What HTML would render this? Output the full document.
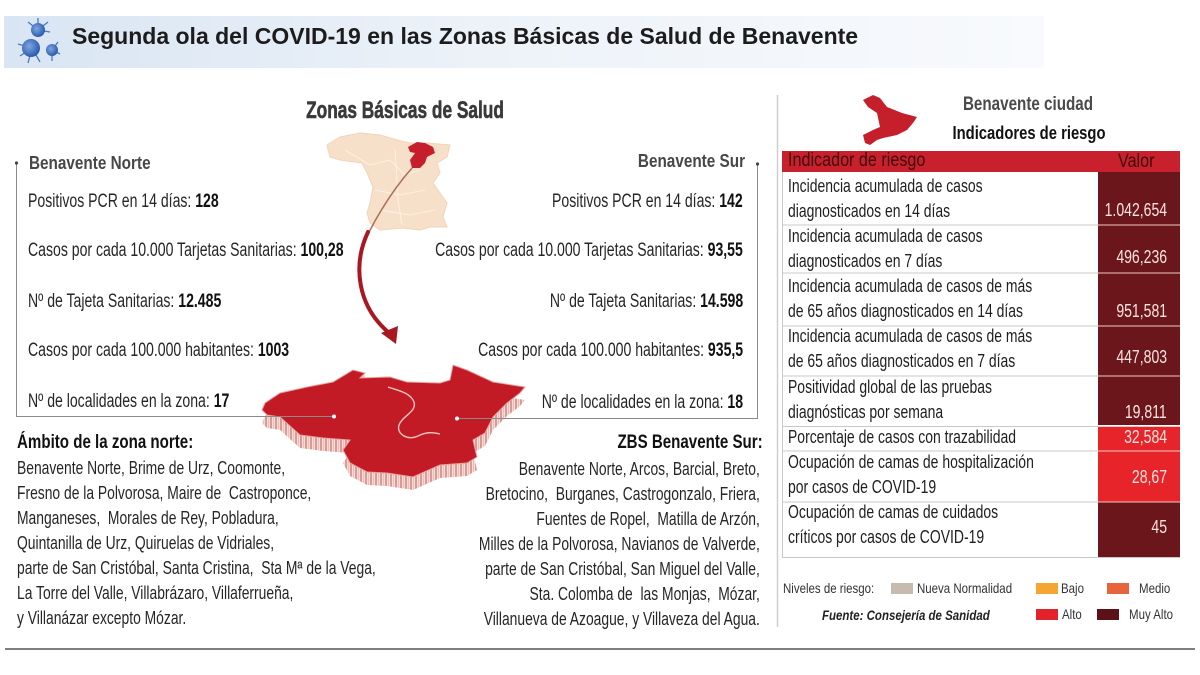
<!DOCTYPE html>
<html><head><meta charset="utf-8">
<style>
html,body{margin:0;padding:0;background:#fff;}
#w{position:relative;width:1200px;height:675px;overflow:hidden;background:#fff;font-family:"Liberation Sans",sans-serif;color:#262626;}
.t{position:absolute;white-space:nowrap;transform-origin:0 50%;line-height:20px;}
.r{transform-origin:100% 50%;text-align:right;}
.c{transform-origin:50% 50%;}
b{font-weight:bold;color:#111;}
.st{font-size:19px;transform:scaleX(.74);}
.hd{font-size:18px;font-weight:bold;color:#474747;transform:scaleX(.85);}
.blk{font-size:18px;line-height:25px;transform:scaleX(.77);}
.tb{font-size:18px;line-height:25px;transform:scaleX(.775);color:#1e1e1e;}
.val{font-size:18px;color:#fbe3df;transform:scaleX(.78);}
.lg{font-size:14px;transform:scaleX(.82);color:#333;}
.sw{position:absolute;width:22px;height:11px;}
</style></head><body><div id="w">

<svg width="1200" height="675" style="position:absolute;left:0;top:0">
<defs>
<linearGradient id="tg" x1="0" x2="1" y1="0" y2="0">
<stop offset="0" stop-color="#d9e5f3"/><stop offset="0.5" stop-color="#eef3f9"/><stop offset="1" stop-color="#f8fafd"/>
</linearGradient>
<pattern id="stp" width="5" height="10" patternUnits="userSpaceOnUse">
<rect width="5" height="10" fill="#f6dcd8"/><rect x="0" width="2" height="10" fill="#d99a96"/><rect x="3" width="1" height="10" fill="#ecbcb6"/>
</pattern>
<radialGradient id="vg" cx="0.4" cy="0.4" r="0.6"><stop offset="0" stop-color="#7fa6e0"/><stop offset="1" stop-color="#2a5cb0"/></radialGradient>
</defs>
<rect x="4" y="16" width="1040" height="52" fill="url(#tg)"/>
<g stroke="#4a78c4" stroke-width="1.3">
<line x1="38" y1="30" x2="38" y2="18"/><line x1="38" y1="30" x2="48" y2="22"/><line x1="38" y1="30" x2="28" y2="22"/><line x1="38" y1="30" x2="50" y2="32"/>
<line x1="32" y1="48" x2="18" y2="44"/><line x1="32" y1="48" x2="20" y2="56"/><line x1="32" y1="48" x2="28" y2="63"/><line x1="32" y1="48" x2="40" y2="62"/>
<line x1="52" y1="50" x2="58" y2="42"/><line x1="52" y1="50" x2="60" y2="54"/><line x1="52" y1="50" x2="52" y2="61"/>
</g>
<circle cx="38" cy="30" r="7" fill="url(#vg)"/>
<circle cx="31" cy="48" r="9" fill="url(#vg)"/>
<circle cx="52" cy="50" r="6" fill="url(#vg)"/>

<polygon points="327,145 340,137 360,133 380,135 397,140 410,143 427,143 450,145 447,157 437,163 440,173 433,183 440,193 447,203 443,217 447,227 430,227 420,230 403,228 380,230 370,223 367,213 370,203 373,187 367,173 362,163 340,160 330,157" fill="#f7e0ca" stroke="#f2d3b8" stroke-width="1"/>
<g stroke="#fff3e8" stroke-width="0.8" fill="none">
<path d="M345,150 L370,165 L390,160 L405,175 L420,170"/><path d="M375,190 L400,195 L425,190"/><path d="M380,210 L410,215 L435,210"/><path d="M395,150 L398,200 L402,225"/>
</g>
<polygon points="408,147 417,142 425,143 433,147 435,153 427,157 425,163 420,168 412,168 410,160 415,153 410,152" fill="#c41f2a"/>
<path d="M412,168 Q388,195 368,234" stroke="#b0705a" stroke-width="1.6" fill="none"/>
<path d="M368,232 C352,266 358,306 388,332" stroke="#a81820" stroke-width="4" fill="none" stroke-linecap="round"/>
<polygon points="381,333 398,326 396,344" fill="#a81820"/>

<g transform="translate(0,13)">
<polygon points="262,410 265,403 280,393 307,387 333,382 353,370 365,373 360,378 390,377 407,382 440,383 450,380 453,365 467,370 493,382 525,387 520,393 507,403 493,417 485,433 473,440 477,457 467,463 440,465 413,477 387,473 367,472 350,463 343,450 350,440 323,438 300,435 280,417 267,415" fill="url(#stp)"/>
</g>
<polygon points="353,370 353,383 365,386 365,373" fill="url(#stp)"/>
<polygon points="453,365 453,380 460,380 460,367" fill="url(#stp)"/>
<polygon points="262,410 265,403 280,393 307,387 333,382 353,370 365,373 360,378 390,377 407,382 440,383 450,380 453,365 467,370 493,382 525,387 520,393 507,403 493,417 485,433 473,440 477,457 467,463 440,465 413,477 387,473 367,472 350,463 343,450 350,440 323,438 300,435 280,417 267,415" fill="#c21b26" stroke="#e9a3a0" stroke-width="1"/>
<path d="M388,387 C396,390 410,392 414,402 C417,412 402,416 399,425 C396,434 408,441 418,436 C426,432 432,432 440,434" stroke="#f4c2bc" stroke-width="1.4" fill="none"/>

<g stroke="#8a8a8a" stroke-width="1" fill="none">
<polyline points="16.5,163 16.5,416.5 334,416.5"/>
<polyline points="757.5,164 757.5,418.5 457,418.5"/>
</g>
<circle cx="16.5" cy="163" r="1.6" fill="#444"/>
<circle cx="757.5" cy="164" r="1.6" fill="#444"/>
<circle cx="334" cy="416.5" r="2" fill="#fff"/>
<circle cx="457" cy="418.5" r="2" fill="#fff"/>

<line x1="777.5" y1="95" x2="777.5" y2="627" stroke="#cfcfcf" stroke-width="1.5"/>

<polygon points="863,100 873,95 880,98 887,107 902,113 917,117 913,123 907,130 897,135 883,138 877,140 870,145 865,143 863,135 873,130 880,127 877,113 868,107" fill="#c41f2a"/>

<rect x="782" y="151" width="398" height="21" fill="#c8202c"/>
<rect x="1098" y="172" width="82" height="253" fill="#6b161a"/>
<rect x="1098" y="427" width="82" height="75" fill="#e6242a"/>
<rect x="1098" y="502" width="82" height="56" fill="#6b161a"/>
<g stroke="#f0c8c4" stroke-width="1">
<line x1="1098" y1="225" x2="1180" y2="225"/><line x1="1098" y1="273" x2="1180" y2="273"/><line x1="1098" y1="326" x2="1180" y2="326"/><line x1="1098" y1="376" x2="1180" y2="376"/><line x1="1098" y1="426.5" x2="1180" y2="426.5"/><line x1="1098" y1="451" x2="1180" y2="451"/><line x1="1098" y1="502" x2="1180" y2="502"/>
</g>
<g stroke="#c9c9c9" stroke-width="1">
<line x1="782.5" y1="172" x2="782.5" y2="558"/>
<line x1="782" y1="225" x2="1098" y2="225"/><line x1="782" y1="273" x2="1098" y2="273"/><line x1="782" y1="326" x2="1098" y2="326"/><line x1="782" y1="376" x2="1098" y2="376"/><line x1="782" y1="426.5" x2="1098" y2="426.5"/><line x1="782" y1="451" x2="1098" y2="451"/><line x1="782" y1="502" x2="1098" y2="502"/><line x1="782" y1="557.5" x2="1180" y2="557.5"/>
</g>

<line x1="5" y1="649" x2="1195" y2="649" stroke="#555" stroke-width="1.5"/>
</svg>

<div class="t" style="left:72px;top:25px;font-size:23px;line-height:22px;font-weight:bold;color:#1c1c1c;">Segunda ola del COVID-19 en las Zonas Básicas de Salud de Benavente</div>

<div class="t c" style="left:405px;top:100px;font-size:24px;line-height:22px;font-weight:bold;color:#3a3a3a;-webkit-text-stroke:0.6px #3a3a3a;transform:translateX(-50%) scaleX(.72);">Zonas Básicas de Salud</div>

<div class="t hd" style="left:29px;top:153px;">Benavente Norte</div>
<div class="t st" style="left:28px;top:192px;">Positivos PCR en 14 días: <b>128</b></div>
<div class="t st" style="left:28px;top:241px;">Casos por cada 10.000 Tarjetas Sanitarias: <b>100,28</b></div>
<div class="t st" style="left:28px;top:292px;">Nº de Tajeta Sanitarias: <b>12.485</b></div>
<div class="t st" style="left:28px;top:341px;">Casos por cada 100.000 habitantes: <b>1003</b></div>
<div class="t st" style="left:28px;top:392px;">Nº de localidades en la zona: <b>17</b></div>

<div class="t hd r" style="right:455px;top:151px;">Benavente Sur</div>
<div class="t st r" style="right:457px;top:192px;">Positivos PCR en 14 días: <b>142</b></div>
<div class="t st r" style="right:457px;top:241px;">Casos por cada 10.000 Tarjetas Sanitarias: <b>93,55</b></div>
<div class="t st r" style="right:457px;top:292px;">Nº de Tajeta Sanitarias: <b>14.598</b></div>
<div class="t st r" style="right:457px;top:341px;">Casos por cada 100.000 habitantes: <b>935,5</b></div>
<div class="t st r" style="right:457px;top:393px;">Nº de localidades en la zona: <b>18</b></div>

<div class="t" style="left:17px;top:433px;font-size:19px;font-weight:bold;color:#111;transform:scaleX(.795);">Ámbito de la zona norte:</div>
<div class="t blk" style="left:17px;top:455.5px;">Benavente Norte, Brime de Urz, Coomonte,<br>Fresno de la Polvorosa, Maire de&nbsp; Castroponce,<br>Manganeses,&nbsp; Morales de Rey, Pobladura,<br>Quintanilla de Urz, Quiruelas de Vidriales,<br>parte de San Cristóbal, Santa Cristina,&nbsp; Sta Mª de la Vega,<br>La Torre del Valle, Villabrázaro, Villaferrueña,<br>y Villanázar excepto Mózar.</div>

<div class="t r" style="right:437px;top:433px;font-size:19px;font-weight:bold;color:#111;transform:scaleX(.795);">ZBS Benavente Sur:</div>
<div class="t blk r" style="right:440px;top:456.5px;">Benavente Norte, Arcos, Barcial, Breto,<br>Bretocino,&nbsp; Burganes, Castrogonzalo, Friera,<br>Fuentes de Ropel,&nbsp; Matilla de Arzón,<br>Milles de la Polvorosa, Navianos de Valverde,<br>parte de San Cristóbal, San Miguel del Valle,<br>Sta. Colomba de&nbsp; las Monjas,&nbsp; Mózar,<br>Villanueva de Azoague, y Villaveza del Agua.</div>

<div class="t c" style="left:1028px;top:95px;font-size:19px;font-weight:bold;color:#4a4a4a;transform:translateX(-50%) scaleX(.8);">Benavente ciudad</div>
<div class="t c" style="left:1029px;top:123px;font-size:18.5px;font-weight:bold;color:#111;transform:translateX(-50%) scaleX(.8);">Indicadores de riesgo</div>

<div class="t" style="left:788px;top:151px;font-size:19px;color:#3d0b0d;transform:scaleX(.85);">Indicador de riesgo</div>
<div class="t" style="left:1118px;top:152px;font-size:19px;color:#3d0b0d;transform:scaleX(.85);">Valor</div>

<div class="t tb" style="left:788px;top:173.5px;">Incidencia acumulada de casos<br>diagnosticados en 14 días</div>
<div class="t tb" style="left:788px;top:223.5px;">Incidencia acumulada de casos<br>diagnosticados en 7 días</div>
<div class="t tb" style="left:788px;top:273.5px;">Incidencia acumulada de casos de más<br>de 65 años diagnosticados en 14 días</div>
<div class="t tb" style="left:788px;top:323.5px;">Incidencia acumulada de casos de más<br>de 65 años diagnosticados en 7 días</div>
<div class="t tb" style="left:788px;top:374.5px;">Positividad global de las pruebas<br>diagnósticas por semana</div>
<div class="t tb" style="left:788px;top:424.5px;">Porcentaje de casos con trazabilidad</div>
<div class="t tb" style="left:788px;top:449.5px;">Ocupación de camas de hospitalización<br>por casos de COVID-19</div>
<div class="t tb" style="left:788px;top:499.5px;">Ocupación de camas de cuidados<br>críticos por casos de COVID-19</div>

<div class="t val r" style="right:33px;top:200px;">1.042,654</div>
<div class="t val r" style="right:33px;top:247px;">496,236</div>
<div class="t val r" style="right:33px;top:301px;">951,581</div>
<div class="t val r" style="right:33px;top:347px;">447,803</div>
<div class="t val r" style="right:33px;top:402px;">19,811</div>
<div class="t val r" style="right:33px;top:427px;">32,584</div>
<div class="t val r" style="right:33px;top:467px;">28,67</div>
<div class="t val r" style="right:33px;top:517px;">45</div>

<div class="t lg" style="left:783px;top:578px;">Niveles de riesgo:</div>
<div class="sw" style="left:891px;top:583px;background:#c6bbae;"></div>
<div class="t lg" style="left:917px;top:578px;">Nueva Normalidad</div>
<div class="sw" style="left:1036px;top:583px;background:#f5a532;"></div>
<div class="t lg" style="left:1061px;top:578px;">Bajo</div>
<div class="sw" style="left:1107px;top:583px;background:#e8643c;"></div>
<div class="t lg" style="left:1139px;top:578px;">Medio</div>
<div class="t" style="left:822px;top:605px;font-size:14px;font-weight:bold;font-style:italic;color:#222;transform:scaleX(.82);">Fuente: Consejería de Sanidad</div>
<div class="sw" style="left:1036px;top:609px;background:#e3232b;"></div>
<div class="t lg" style="left:1062px;top:604px;">Alto</div>
<div class="sw" style="left:1097px;top:609px;background:#5c1117;"></div>
<div class="t lg" style="left:1129px;top:604px;">Muy Alto</div>

</div></body></html>
